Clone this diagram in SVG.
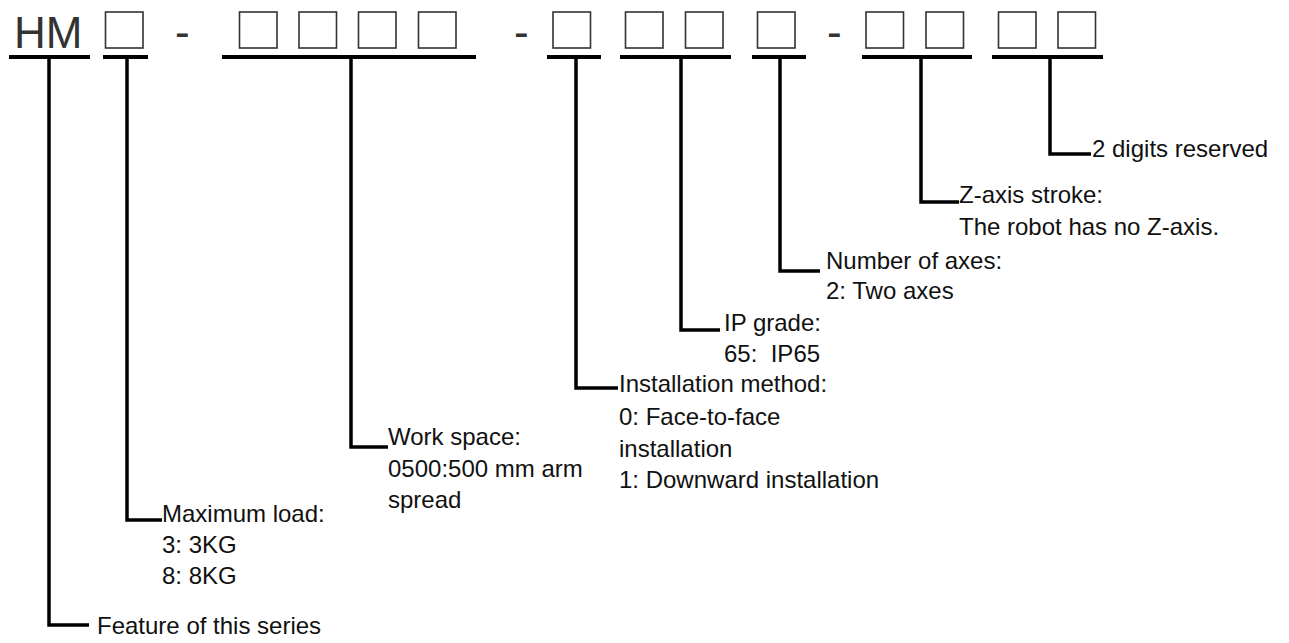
<svg xmlns="http://www.w3.org/2000/svg" width="1289" height="643" viewBox="0 0 1289 643">
<style>
.bg{fill:#fff}
.box{fill:none;stroke:#333;stroke-width:1.6}
.big{font-family:"Liberation Sans",Arial,sans-serif;font-size:44px;fill:#333}
.ul{stroke:#000;stroke-width:4;fill:none}
.ln{stroke:#000;stroke-width:3.5;fill:none;stroke-linejoin:miter}
.t{font-family:"Liberation Sans",Arial,sans-serif;font-size:24px;fill:#111}
</style>
<rect class="bg" x="0" y="0" width="1289" height="643"/>
<g id="code">
<text class="big" x="14" y="47.5">HM</text>
<text class="big" x="175" y="47">-</text>
<text class="big" x="514" y="47">-</text>
<text class="big" x="827" y="47">-</text>
<rect class="box" x="105.5" y="12" width="37.5" height="36"/>
<rect class="box" x="239.5" y="12" width="37.5" height="36"/>
<rect class="box" x="299" y="12" width="37.5" height="36"/>
<rect class="box" x="358.5" y="12" width="37.5" height="36"/>
<rect class="box" x="418.5" y="12" width="37.5" height="36"/>
<rect class="box" x="553" y="12" width="37.5" height="36"/>
<rect class="box" x="625.5" y="12" width="37.5" height="36"/>
<rect class="box" x="685.5" y="12" width="37.5" height="36"/>
<rect class="box" x="757.5" y="12" width="37.5" height="36"/>
<rect class="box" x="866" y="12" width="37.5" height="36"/>
<rect class="box" x="926" y="12" width="37.5" height="36"/>
<rect class="box" x="998.5" y="12" width="37.5" height="36"/>
<rect class="box" x="1058" y="12" width="37.5" height="36"/>
</g>
<g id="connectors">
<line class="ul" x1="9" y1="57" x2="90" y2="57"/>
<line class="ul" x1="103" y1="57" x2="148" y2="57"/>
<line class="ul" x1="222" y1="57" x2="476" y2="57"/>
<line class="ul" x1="547" y1="57" x2="601" y2="57"/>
<line class="ul" x1="620" y1="57" x2="731" y2="57"/>
<line class="ul" x1="752" y1="57" x2="806" y2="57"/>
<line class="ul" x1="862" y1="57" x2="972" y2="57"/>
<line class="ul" x1="992" y1="57" x2="1103" y2="57"/>
<polyline class="ln" points="49,57 49,625 89,625"/>
<polyline class="ln" points="127,57 127,520 162,520"/>
<polyline class="ln" points="351,57 351,447 388,447"/>
<polyline class="ln" points="576,57 576,388 618,388"/>
<polyline class="ln" points="681,57 681,330 720,330"/>
<polyline class="ln" points="780,57 780,271 820,271"/>
<polyline class="ln" points="921,57 921,202 959,202"/>
<polyline class="ln" points="1050,57 1050,154 1091,154"/>
</g>
<g id="n-feature"><text class="t" x="97" y="634">Feature of this series</text></g>
<g id="n-load">
<text class="t" x="162" y="522">Maximum load:</text>
<text class="t" x="162" y="553">3: 3KG</text>
<text class="t" x="162" y="584">8: 8KG</text>
</g>
<g id="n-workspace">
<text class="t" x="388" y="445">Work space:</text>
<text class="t" x="388" y="477">0500:500 mm arm</text>
<text class="t" x="388" y="508">spread</text>
</g>
<g id="n-install">
<text class="t" x="619" y="392">Installation method:</text>
<text class="t" x="619" y="425">0: Face-to-face</text>
<text class="t" x="619" y="457">installation</text>
<text class="t" x="619" y="488">1: Downward installation</text>
</g>
<g id="n-ip">
<text class="t" x="724" y="331">IP grade:</text>
<text class="t" x="724" y="362" xml:space="preserve">65:  IP65</text>
</g>
<g id="n-axes">
<text class="t" x="826" y="269">Number of axes:</text>
<text class="t" x="826" y="299">2: Two axes</text>
</g>
<g id="n-z">
<text class="t" x="959" y="203">Z-axis stroke:</text>
<text class="t" x="959" y="235">The robot has no Z-axis.</text>
</g>
<g id="n-reserved"><text class="t" x="1092" y="157">2 digits reserved</text></g>
</svg>
